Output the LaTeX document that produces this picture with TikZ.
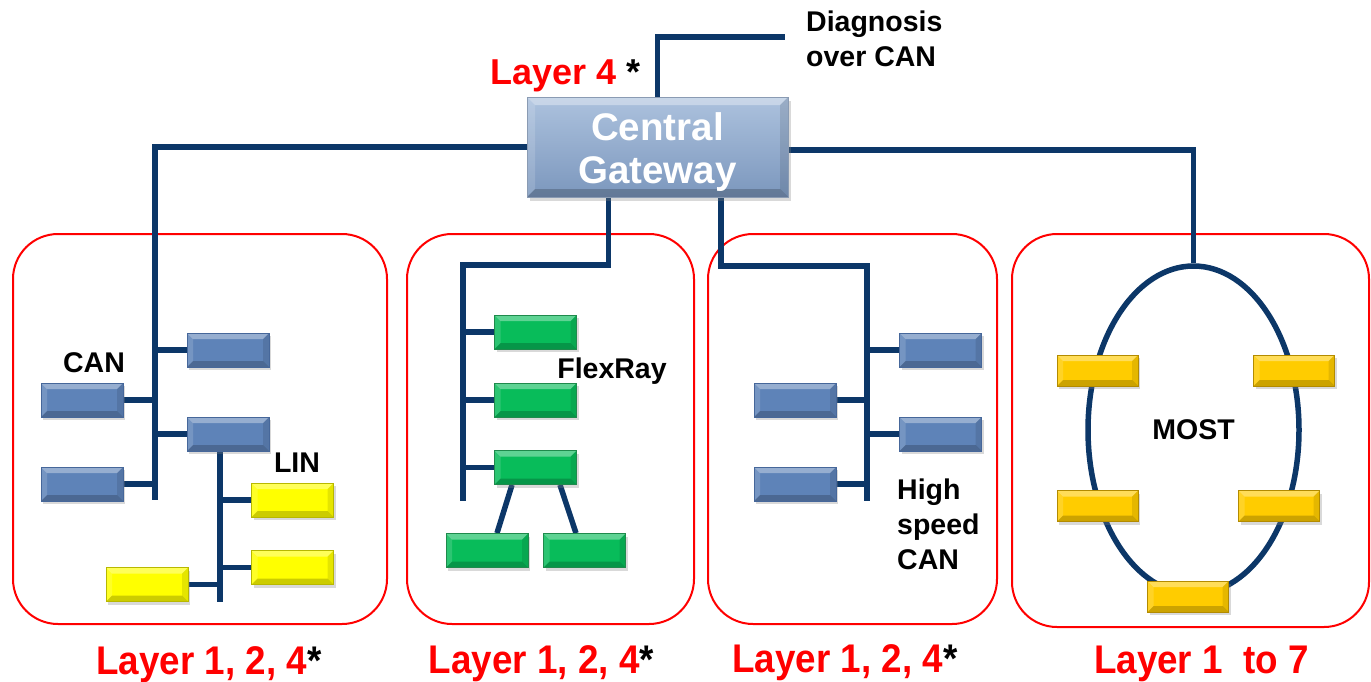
\documentclass[tikz,border=0pt]{standalone}
\usepackage{fontspec}
\setmainfont{Liberation Sans}
\usetikzlibrary{shapes.geometric,shadows,calc}
\definecolor{navy}{HTML}{0C3768}
\definecolor{ecublue}{HTML}{5E83B8}
\definecolor{ecublueb}{HTML}{46679A}
\definecolor{ecugreen}{HTML}{08BC5A}
\definecolor{ecugreenb}{HTML}{1F8A4C}
\definecolor{ecuyellow}{HTML}{FFFF00}
\definecolor{ecuyellowb}{HTML}{B8B800}
\definecolor{ecugold}{HTML}{FFCC00}
\definecolor{ecugoldb}{HTML}{B38B00}
\definecolor{gwtop}{HTML}{ADC2DE}
\definecolor{gwbot}{HTML}{7B97BD}
\definecolor{gwb}{HTML}{8A9BB3}
\definecolor{lred}{HTML}{FF0000}
\pgfdeclarelayer{background}
\pgfsetlayers{background,main}
\tikzset{
  bevel/.style={path picture={
    \fill[white,opacity=0.35] (path picture bounding box.north west) -- (path picture bounding box.north east) -- ([xshift=-#1,yshift=-#1]path picture bounding box.north east) -- ([xshift=#1,yshift=-#1]path picture bounding box.north west) -- cycle;
    \fill[white,opacity=0.15] (path picture bounding box.north west) -- ([xshift=#1,yshift=-#1]path picture bounding box.north west) -- ([xshift=#1,yshift=#1]path picture bounding box.south west) -- (path picture bounding box.south west) -- cycle;
    \fill[black,opacity=0.2] (path picture bounding box.south west) -- ([xshift=#1,yshift=#1]path picture bounding box.south west) -- ([xshift=-#1,yshift=#1]path picture bounding box.south east) -- (path picture bounding box.south east) -- cycle;
    \fill[black,opacity=0.1] (path picture bounding box.north east) -- ([xshift=-#1,yshift=-#1]path picture bounding box.north east) -- ([xshift=-#1,yshift=#1]path picture bounding box.south east) -- (path picture bounding box.south east) -- cycle;
  }},
  ecubase/.style={rectangle, draw=#1, line width=0.8pt, inner sep=0pt, minimum width=82pt, minimum height=34pt,
    drop shadow={shadow xshift=2pt, shadow yshift=-3pt, opacity=0.3}},
  blueecu/.style={ecubase=ecublueb, fill=ecublue, bevel=6pt},
  greenecu/.style={ecubase=ecugreenb, fill=ecugreen, bevel=6pt},
  yellowecu/.style={ecubase=ecuyellowb, fill=ecuyellow, bevel=6pt},
  goldecu/.style={ecubase=ecugoldb, fill=ecugold, bevel=6pt, minimum width=81pt, minimum height=31pt},
  gwbox/.style={rectangle, minimum width=261pt, minimum height=100pt, inner sep=0pt, top color=gwtop, bottom color=gwbot,
    draw=gwb, line width=0.8pt, bevel=8pt,
    drop shadow={shadow xshift=3pt, shadow yshift=-4pt, opacity=0.3}},
  gwtext/.style={inner sep=0pt, align=center, text=white, font=\bfseries\fontsize{38.5}{43.5}\selectfont},
  bus/.style={draw=navy, line width=5.5pt},
  redbox/.style={rectangle, draw=lred, line width=2pt, rounded corners=45pt, inner sep=0pt},
  lab/.style={inner sep=0pt, font=\bfseries\fontsize{28.5}{35}\selectfont},
  layerlab/.style={inner sep=0pt, anchor=base, text=lred, font=\bfseries\fontsize{40}{44}\selectfont},
}
\begin{document}
\begin{tikzpicture}[x=1pt,y=-1pt]
\useasboundingbox (0,0) rectangle (1371,681);
% gateway
\node[gwbox] (gw) at (657.5,147) {};
\node[gwtext] (gwt) at (657.5,152) {Central\\Gateway};
\node[inner sep=0pt, anchor=base west, font=\bfseries\fontsize{36}{40}\selectfont] (l4) at (490,84) {{\color{lred}Layer 4} *};
\coordinate (diagend) at (785,37);
\node[lab, anchor=north west, align=left] (diag) at (806,11) {Diagnosis\\over CAN};
% box 1
\node[blueecu] (A) at (228,350) {};
\node[blueecu] (B) at (82,400) {};
\node[blueecu] (C) at (228,434) {};
\node[blueecu] (D) at (82,484) {};
\node[yellowecu] (E) at (292.5,500) {};
\node[yellowecu] (F) at (292.5,567.5) {};
\node[yellowecu] (G) at (147,584.5) {};
\coordinate (c1b) at (155,500);
\coordinate (l1b) at (220,602);
\node[lab, anchor=base] (can) at (94,372) {CAN};
\node[lab, anchor=base] (lin) at (297,472) {LIN};
% box 2
\node[greenecu] (g1) at (535.5,332) {};
\node[greenecu] (g2) at (535.5,400) {};
\node[greenecu] (g3) at (535.5,467.5) {};
\node[greenecu] (g4) at (487,550.5) {};
\node[greenecu] (g5) at (584.5,550.5) {};
\coordinate (g2a) at (608.5,265);
\coordinate (c2b) at (463,501);
\node[lab, anchor=base] (flex) at (612,378) {FlexRay};
% box 3
\node[blueecu] (b1) at (940.5,350) {};
\node[blueecu] (b2) at (940.5,434) {};
\node[blueecu] (b3) at (795,400) {};
\node[blueecu] (b4) at (795,484) {};
\coordinate (g3a) at (721,266);
\coordinate (c3b) at (867,501);
\node[lab, anchor=north west, align=left] (hs) at (897,479) {High\\speed\\CAN};
% box 4
\node[ellipse, draw=navy, line width=5.5pt, line join=round, minimum width=211pt, minimum height=328pt, inner sep=0pt,
  font=\bfseries\fontsize{28.5}{35}\selectfont] (ring) at (1193.5,430) {MOST};
\node[goldecu] (y1) at (1097.5,370.5) {};
\node[goldecu] (y2) at (1294,370.5) {};
\node[goldecu] (y3) at (1097.5,506) {};
\node[goldecu] (y4) at (1279,506) {};
\node[goldecu] (y5) at (1188,596.5) {};
% layer labels
\node[layerlab] (L1) at (209,674) {\scalebox{0.92}[1]{Layer 1, 2, 4{\color{black}*}}};
\node[layerlab] (L2) at (541.5,673) {\scalebox{0.92}[1]{Layer 1, 2, 4{\color{black}*}}};
\node[layerlab] (L3) at (845,672) {\scalebox{0.92}[1]{Layer 1, 2, 4{\color{black}*}}};
\node[layerlab] (L4) at (1201.5,673) {\scalebox{0.92}[1]{Layer 1~ to 7}};
\begin{pgfonlayer}{background}
\node[redbox, minimum width=374pt, minimum height=390pt] (r1) at (200,429) {};
\node[redbox, minimum width=287pt, minimum height=390pt] (r2) at (550.5,429) {};
\node[redbox, minimum width=289pt, minimum height=390pt] (r3) at (852.5,429) {};
\node[redbox, minimum width=357pt, minimum height=393pt] (r4) at (1190.5,430.5) {};
% gateway connections
\draw[bus] (gw.north) |- (diagend);
\draw[bus] (gw.west) -| (c1b);
\draw[bus] (gw.south -| g2a) -- (g2a) -| (c2b);
\draw[bus] (gw.south -| g3a) -- (g3a) -| (c3b);
\draw[bus] ([yshift=-3pt]gw.east) -| (ring.north);
% box 1
\draw[bus] (A.west) -- (A.west -| c1b);
\draw[bus] (B.east) -- (B.east -| c1b);
\draw[bus] (C.west) -- (C.west -| c1b);
\draw[bus] (D.east) -- (D.east -| c1b);
\draw[bus] (C.south -| l1b) -- (l1b);
\draw[bus] (E.west) -- (E.west -| l1b);
\draw[bus] (F.west) -- (F.west -| l1b);
\draw[bus] (G.east) -- (G.east -| l1b);
% box 2
\draw[bus] (g1.west) -- (g1.west -| c2b);
\draw[bus] (g2.west) -- (g2.west -| c2b);
\draw[bus] (g3.west) -- (g3.west -| c2b);
\draw[bus] ([xshift=-23.5pt]g3.south) -- ([xshift=10pt]g4.north);
\draw[bus] ([xshift=24.5pt]g3.south) -- ([xshift=-8.5pt]g5.north);
% box 3
\draw[bus] (b1.west) -- (b1.west -| c3b);
\draw[bus] (b2.west) -- (b2.west -| c3b);
\draw[bus] (b3.east) -- (b3.east -| c3b);
\draw[bus] (b4.east) -- (b4.east -| c3b);
\end{pgfonlayer}
\end{tikzpicture}
\end{document}
